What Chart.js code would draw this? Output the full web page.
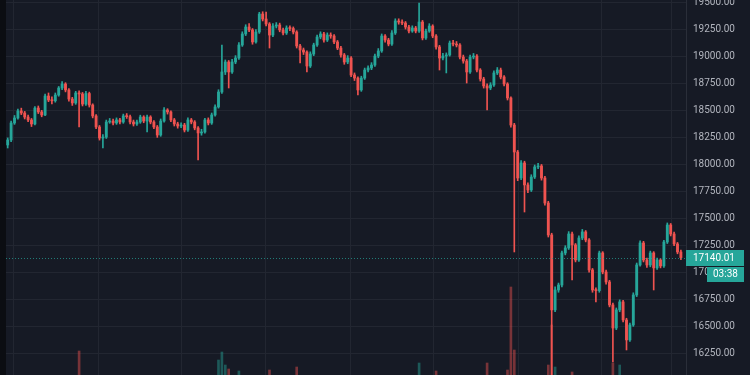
<!DOCTYPE html>
<html>
<head>
<meta charset="utf-8">
<script src="https://cdn.jsdelivr.net/npm/chart.js@4.4.1/dist/chart.umd.min.js"></script>
<style>
  html, body { margin: 0; padding: 0; background: #161A25; overflow: hidden; }
  #wrap { width: 750px; height: 375px; position: relative; }
</style>
</head>
<body>
<div id="wrap"><canvas id="btc"></canvas></div>
<script>
// candles, oldest first
var opens = [18180,18226,18383,18429,18494,18475,18438,18411,18374,18521,
  18485,18457,18632,18595,18588,18641,18706,18743,18688,18604,
  18568,18660,18651,18558,18655,18549,18448,18346,18244,18252,
  18392,18401,18383,18411,18392,18448,18441,18392,18374,18392,
  18438,18401,18438,18392,18346,18272,18401,18503,18485,18411,
  18374,18355,18364,18318,18411,18392,18337,18291,18300,18411,
  18383,18457,18531,18669,18854,18946,18854,18946,18983,19103,
  19205,19269,19242,19131,19223,19389,19343,19297,19195,19278,
  19288,19242,19214,19260,19255,19223,19094,19057,19038,18909,
  19020,19103,19177,19205,19149,19195,19186,19131,19075,19011,
  18946,18983,18826,18798,18688,18798,18872,18891,18918,19001,
  19048,19186,19149,19112,19214,19325,19315,19306,19269,19232,
  19260,19232,19315,19168,19232,19278,19186,19085,18983,19001,
  19011,19121,19112,19103,18992,18955,18854,18992,19001,18872,
  18789,18725,18706,18734,18845,18872,18808,18743,18614,18364,
  18115,17875,18014,17811,17764,17884,17977,17986,17875,17644,
  17349,16657,16841,16887,17183,17229,17358,17257,17118,17321,
  17377,17303,17026,16841,16835,17183,17007,16915,16703,16490,
  16657,16731,16564,16380,16518,16795,17072,17275,17118,17072,
  17183,17045,17118,17063,17284,17441,17358,17266,17192];

var highs = [18245,18400,18452,18512,18520,18490,18455,18425,18535,18540,
  18500,18650,18660,18625,18660,18720,18765,18755,18700,18620,
  18675,18680,18665,18675,18668,18560,18460,18360,18275,18410,
  18425,18420,18430,18425,18465,18470,18455,18410,18410,18455,
  18450,18455,18450,18405,18360,18420,18525,18515,18495,18425,
  18390,18385,18380,18430,18425,18405,18350,18325,18425,18430,
  18475,18550,18690,19103,18965,18960,18970,19005,19125,19225,
  19290,19300,19255,19245,19405,19410,19408,19310,19300,19310,
  19305,19260,19280,19280,19270,19235,19110,19075,19050,19040,
  19120,19195,19225,19220,19215,19215,19200,19145,19090,19025,
  19005,18995,18845,18810,18815,18890,18910,18940,19020,19070,
  19205,19200,19165,19235,19345,19345,19335,19320,19285,19280,
  19275,19491,19330,19250,19300,19290,19200,19100,19025,19030,
  19140,19145,19135,19115,19010,18970,19010,19025,19015,18885,
  18805,18745,18755,18865,18895,18890,18820,18755,18625,18380,
  18130,18035,18030,17830,17905,17995,18010,18000,17890,17660,
  17365,16870,16905,17200,17250,17380,17375,17270,17340,17400,
  17390,17315,17040,16860,17200,17195,17025,16930,16720,16675,
  16750,16745,16580,16535,16815,17090,17295,17290,17135,17200,
  17195,17135,17130,17300,17460,17455,17375,17280,17210];

var lows = [18152,18210,18370,18418,18460,18420,18395,18350,18365,18470,
  18440,18450,18580,18560,18575,18630,18690,18670,18585,18545,
  18555,18346,18540,18545,18530,18430,18330,18225,18152,18240,
  18380,18365,18370,18375,18380,18425,18375,18355,18360,18380,
  18385,18300,18375,18330,18250,18260,18390,18465,18395,18355,
  18335,18340,18300,18305,18375,18320,18041,18270,18290,18365,
  18370,18445,18520,18655,18830,18706,18840,18930,18970,19090,
  19190,19225,19110,19120,19210,19325,19280,19075,19180,19260,
  19225,19195,19200,19235,19205,19075,18937,19015,18854,18895,
  19005,19090,19160,19130,19135,19165,19115,19060,18990,18925,
  18930,18810,18775,18641,18675,18785,18855,18875,18905,18985,
  19035,19130,19095,19100,19200,19295,19290,19250,19215,19220,
  19215,19220,19150,19155,19220,19170,19065,18872,18965,18845,
  19000,19095,19085,18975,18935,18752,18840,18975,18855,18770,
  18705,18503,18690,18720,18830,18790,18725,18595,18345,17192,
  17850,17860,17561,17740,17750,17870,17960,17855,17625,17330,
  16040,16640,16820,16870,17165,17215,16933,17100,17105,17305,
  17285,17005,16820,16731,16820,16990,16895,16685,16177,16475,
  16640,16545,16287,16365,16505,16780,17060,17100,17050,17055,
  16841,17030,17045,17050,17270,17340,17250,17175,17120];

var closes = [18226,18383,18429,18494,18475,18438,18411,18374,18521,18485,
  18457,18632,18595,18588,18641,18706,18743,18688,18604,18568,
  18660,18651,18558,18655,18549,18448,18346,18244,18252,18392,
  18401,18383,18411,18392,18448,18441,18392,18374,18392,18438,
  18401,18438,18392,18346,18272,18401,18503,18485,18411,18374,
  18355,18364,18318,18411,18392,18337,18291,18300,18411,18383,
  18457,18531,18669,18854,18946,18854,18946,18983,19103,19205,
  19269,19242,19131,19223,19389,19343,19297,19195,19278,19288,
  19242,19214,19260,19255,19223,19094,19057,19038,18909,19020,
  19103,19177,19205,19149,19195,19186,19131,19075,19011,18946,
  18983,18826,18798,18688,18798,18872,18891,18918,19001,19048,
  19186,19149,19112,19214,19325,19315,19306,19269,19232,19260,
  19232,19315,19168,19232,19278,19186,19085,18983,19001,19011,
  19121,19112,19103,18992,18955,18854,18992,19001,18872,18789,
  18725,18706,18734,18845,18872,18808,18743,18614,18364,18115,
  17875,18014,17811,17764,17884,17977,17986,17875,17644,17349,
  16657,16841,16887,17183,17229,17358,17257,17118,17321,17377,
  17303,17026,16841,16835,17183,17007,16915,16703,16490,16657,
  16731,16564,16380,16518,16795,17072,17275,17118,17072,17183,
  17045,17118,17063,17284,17441,17358,17266,17192,17140.01];

// volume pane sits mostly below the visible crop, only the spikes poke up
var volumes = [420,510,380,460,350,300,410,390,520,330,
  310,560,420,300,360,480,520,450,380,340,
  410,1040,390,450,420,380,460,520,610,540,
  330,290,310,280,350,300,320,290,270,330,
  300,450,310,340,420,520,480,350,300,290,
  270,260,310,340,300,330,720,380,400,310,
  380,520,950,1030,900,860,640,590,840,610,
  560,480,520,470,640,520,580,850,430,390,
  360,340,380,310,350,880,560,420,700,480,
  460,430,390,350,330,300,340,380,420,450,
  380,520,480,610,530,470,390,360,440,420,
  520,410,380,460,590,430,360,340,380,330,
  350,920,610,450,420,500,840,620,480,560,
  520,410,380,470,440,590,480,360,500,560,
  520,920,480,540,470,430,520,850,1680,1050,
  760,640,790,560,520,480,430,520,680,900,
  1300,880,720,690,540,560,830,470,520,480,
  460,610,720,560,640,500,530,660,920,680,
  900,640,720,610,680,650,560,470,450,430,
  560,430,410,520,610,480,450,420,380];

var priceTicks = [16250,16500,16750,17000,17250,17500,17750,18000,
  18250,18500,18750,19000,19250,19500];

// session boundaries (candle index) for the vertical grid
var timeTicks = [1.56, 26.56, 51.26, 75.97, 100.68, 125.38, 150.09, 174.79, 195.38];
var countdown = '03:38';

const UP = '#26a69a';
const DOWN = '#ef5350';
const GRID = '#222631';

Chart.defaults.font.family = 'Roboto';

var candleColors = closes.map(function(c, i){ return c >= opens[i] ? UP : DOWN; });
var volColors = closes.map(function(c, i){ return c >= opens[i] ? 'rgba(38,166,154,0.45)' : 'rgba(239,83,80,0.45)'; });

var wickData = highs.map(function(h, i){ return {x: i, y: [lows[i], h]}; });
var bodyData = opens.map(function(o, i){ return {x: i, y: [o, closes[i]]}; });
var volData = volumes.map(function(v, i){ return {x: i, y: v}; });

var lastClose = closes[closes.length - 1];

const backdrop = {
  id: 'backdrop',
  beforeDraw: function(chart){
    var ctx = chart.ctx;
    ctx.save();
    ctx.fillStyle = '#161A25';
    ctx.fillRect(0, 0, chart.width, chart.height);
    ctx.fillStyle = '#0B0D12';
    ctx.fillRect(0, 0, 6, chart.height);
    ctx.restore();
  }
};

const lastPrice = {
  id: 'lastPrice',
  afterDatasetsDraw: function(chart){
    var ctx = chart.ctx, a = chart.chartArea;
    var y = Math.round(chart.scales.y.getPixelForValue(lastClose)) + 0.5;
    ctx.save();
    ctx.strokeStyle = 'rgba(38,166,154,0.7)';
    ctx.lineWidth = 1;
    ctx.setLineDash([1, 2]);
    ctx.beginPath();
    ctx.moveTo(a.left, y);
    ctx.lineTo(a.right, y);
    ctx.stroke();
    ctx.restore();
  },
  afterDraw: function(chart){
    var ctx = chart.ctx, a = chart.chartArea;
    var y = Math.round(chart.scales.y.getPixelForValue(lastClose));
    ctx.save();
    ctx.fillStyle = UP;
    ctx.fillRect(a.right, y - 8, 58, 16);
    ctx.fillRect(a.right + 21, y + 9, 37, 15);
    ctx.fillStyle = '#ffffff';
    ctx.font = '10px Roboto';
    ctx.textBaseline = 'middle';
    ctx.fillText(lastClose.toFixed(2), a.right + 7, y + 0.5);
    ctx.fillText(countdown, a.right + 27, y + 16.5);
    ctx.restore();
  }
};

new Chart(document.getElementById('btc'), {
  type: 'bar',
  data: {
    datasets: [
      { data: bodyData, yAxisID: 'y', backgroundColor: candleColors, barThickness: 2.2, minBarLength: 1, grouped: false, order: 1 },
      { data: wickData, yAxisID: 'y', backgroundColor: candleColors, barThickness: 1, grouped: false, order: 2 },
      { data: volData, yAxisID: 'vol', backgroundColor: volColors, barThickness: 2, grouped: false, order: 3 }
    ]
  },
  options: {
    responsive: true,
    maintainAspectRatio: false,
    animation: false,
    layout: { padding: { left: 6, top: 0, right: 0, bottom: 0 } },
    plugins: { legend: { display: false }, tooltip: { enabled: false } },
    scales: {
      x: {
        type: 'linear', min: -0.5, max: 199.5, offset: false,
        ticks: { display: false },
        grid: { color: GRID, drawTicks: false, offset: false },
        border: { display: false },
        afterBuildTicks: function(s){ s.ticks = timeTicks.map(function(v){ return {value: v}; }); },
        afterFit: function(s){ s.height = 0; s.paddingLeft = 0; s.paddingRight = 0; }
      },
      y: {
        position: 'right', min: 16056, max: 19518.5,
        grid: { color: GRID, drawTicks: false },
        border: { color: '#2A2E39' },
        ticks: {
          autoSkip: false, padding: 7, color: '#B2B5BE',
          font: { size: 10 },
          callback: function(v){ return Number(v).toFixed(2); }
        },
        afterBuildTicks: function(s){ s.ticks = priceTicks.map(function(v){ return {value: v}; }); },
        afterFit: function(s){ s.width = 64; s.paddingTop = 0; s.paddingBottom = 0; }
      },
      vol: { display: false, min: 800, max: 4550 }
    }
  },
  plugins: [backdrop, lastPrice]
});
</script>
</body>
</html>
